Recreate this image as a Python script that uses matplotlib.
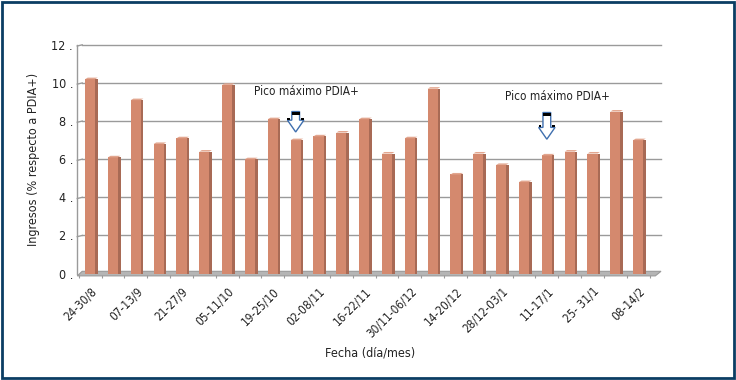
import matplotlib
matplotlib.use("Agg")
import matplotlib.pyplot as plt
from matplotlib.patches import Polygon, Rectangle
import numpy as np

plt.rcParams['font.family'] = ['DejaVu Sans']
plt.rcParams['font.stretch'] = 'condensed'

categories = ["24-30/8", "31/8-06/9", "07-13/9", "14-20/9", "21-27/9", "28/9-04/10",
              "05-11/10", "12-18/10", "19-25/10", "26/10-01/11", "02-08/11", "09-15/11",
              "16-22/11", "23-29/11", "30/11-06/12", "07-13/12", "14-20/12", "21-27/12",
              "28/12-03/1", "04-10/1", "11-17/1", "18-24/1", "25- 31/1", "01-07/2", "08-14/2"]
values = [10.2, 6.1, 9.1, 6.8, 7.1, 6.4, 9.9, 6.0, 8.1, 7.0, 7.2, 7.4, 8.1,
          6.3, 7.1, 9.7, 5.2, 6.3, 5.7, 4.8, 6.2, 6.4, 6.3, 8.5, 7.0]
yticks = [0, 2, 4, 6, 8, 10, 12]
peak_idx = [9, 20]
peak_label = "Pico máximo PDIA+"

fig = plt.figure(figsize=(7.36, 3.8), dpi=100)
ax = fig.add_axes([0.105, 0.28, 0.79, 0.602])

x = np.arange(len(values))
front_w = 0.44
side_w = 0.11
front_c = '#D4896E'
side_c = '#A86A55'

# gridlines
for yv in yticks[1:]:
    ax.plot([-0.35, 25.0], [yv, yv], color='#9a9a9a', lw=1.0, zorder=1, clip_on=False)
    ax.plot([-0.565, -0.35], [yv - 0.06, yv], color='#9a9a9a', lw=1.0, zorder=1, clip_on=False)

# floor
floor = Polygon([(-0.565, -0.12), (24.75, -0.12), (25.0, 0.12), (-0.35, 0.12)],
                closed=True, facecolor='#b5b5b5', edgecolor='#9a9a9a', lw=0.8,
                zorder=2, clip_on=False)
ax.add_patch(floor)

ax.bar(x, values, width=front_w, color=front_c, zorder=3, linewidth=0)
ax.bar(x + front_w / 2 + side_w / 2, values, width=side_w, color=side_c, zorder=3, linewidth=0)
for xi, v in zip(x, values):
    top = Polygon([(xi - front_w / 2, v), (xi + front_w / 2, v),
                   (xi + front_w / 2 + side_w, v + 0.08), (xi - front_w / 2 + side_w, v + 0.08)],
                  closed=True, facecolor='#e2a68f', lw=0, zorder=3)
    ax.add_patch(top)

# annotations: hollow block arrows
sw, hw = 0.17, 0.36
for k, pi in enumerate(peak_idx):
    ytop = 8.5 if k == 0 else 8.45
    ytip = 7.43 if k == 0 else 7.05
    yneck = ytip + 0.62
    ax.text(pi + 0.45, 9.2 if k == 0 else 8.95, peak_label, ha='center', va='bottom',
            fontsize=8.5, color='#222222')
    arrow = Polygon([(pi - sw, ytop), (pi + sw, ytop), (pi + sw, yneck), (pi + hw, yneck),
                     (pi, ytip), (pi - hw, yneck), (pi - sw, yneck)],
                    closed=True, facecolor='white', edgecolor='#3f6fae', lw=1.0, zorder=5)
    ax.add_patch(arrow)
    ax.add_patch(Rectangle((pi - sw, ytop - 0.16), 2 * sw, 0.16, facecolor='black', lw=0, zorder=6))
    ax.add_patch(Rectangle((pi - hw, yneck), 0.12, 0.12, facecolor='black', lw=0, zorder=6))
    ax.add_patch(Rectangle((pi + hw - 0.12, yneck), 0.12, 0.12, facecolor='black', lw=0, zorder=6))

ax.set_xlim(-0.565, 24.9)
ax.set_ylim(0, 12)
ax.set_yticks(yticks)
ax.set_yticklabels([f"{t} ." for t in yticks], fontsize=9, color='#222222')
ax.tick_params(axis='y', length=0, pad=3)

ax.set_xticks(x[::2])
ax.set_xticklabels(categories[::2], rotation=45, ha='right', rotation_mode='anchor',
                   fontsize=8.5, color='#222222')
ax.set_xticks(np.arange(-0.5, 25.0, 1.0), minor=True)
ax.tick_params(axis='x', which='major', length=0, pad=8)
ax.tick_params(axis='x', which='minor', length=3, color='#9a9a9a', width=0.8)

for s in ['top', 'right', 'bottom']:
    ax.spines[s].set_visible(False)
ax.spines['left'].set_color('#9a9a9a')
ax.spines['left'].set_linewidth(1.0)

ax.set_ylabel("Ingresos (% respecto a PDIA+)", fontsize=9, color='#222222', labelpad=8)
fig.text(0.503, 0.072, "Fecha (día/mes)", ha='center', va='center', fontsize=9, color='#222222')

# figure border
border = Rectangle((0.003, 0.004), 0.994, 0.992, transform=fig.transFigure, fill=False,
                   edgecolor='#0b3d63', lw=2.0)
fig.patches.append(border)

fig.savefig('out.png', dpi=100, facecolor='white')
